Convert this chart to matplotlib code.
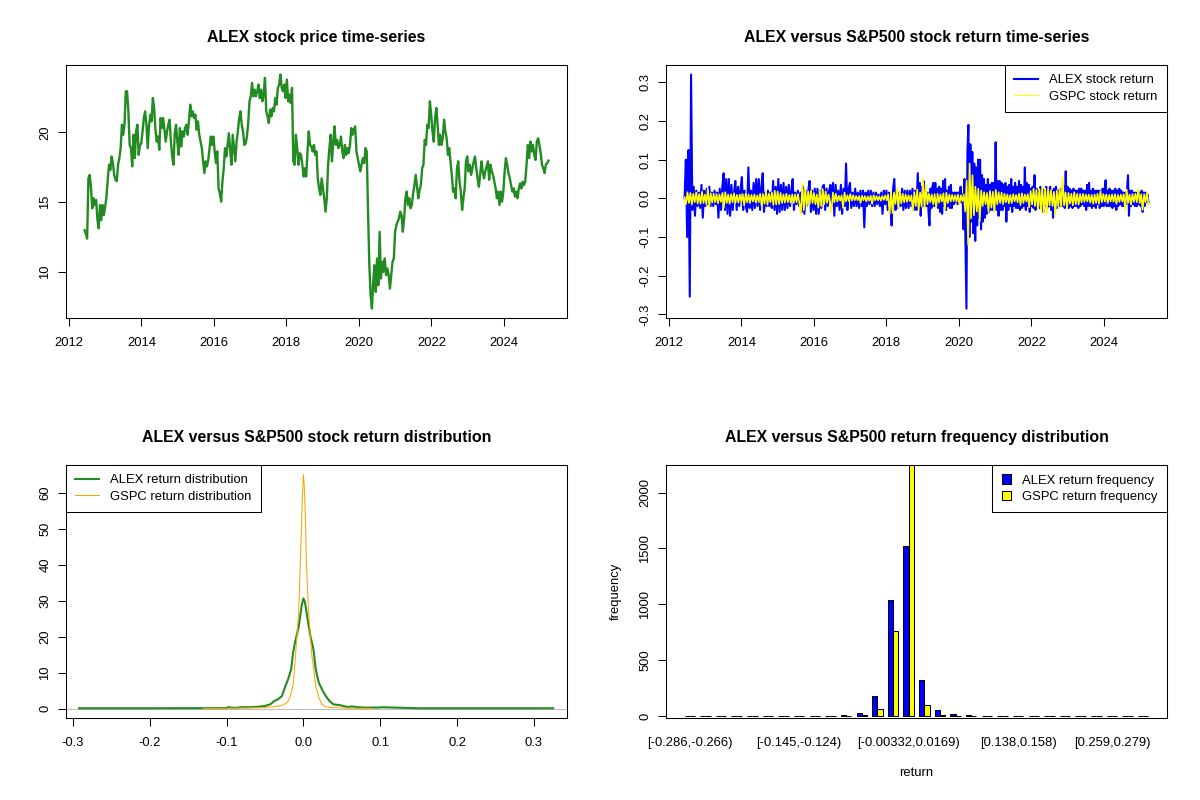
import numpy as np
import pandas as pd
import matplotlib
matplotlib.use("Agg")
import matplotlib.pyplot as plt
import matplotlib.dates as mdates
from matplotlib.patches import Patch
from matplotlib.lines import Line2D

plt.rcParams["font.family"] = ["Liberation Sans", "DejaVu Sans"]

# ---- data ----
price_start, price_end = "2012-06-07", "2025-03-25"
alex_price = [
    12.98, 12.74, 12.38, 16.7, 16.95, 15.98, 14.55, 15.27, 14.79, 15.15, 13.71, 13.11, 14.79, 13.71, 14.79,
    14.07, 14.67, 15.39, 16.6, 17.68, 17.3, 18.27, 17.8, 16.95, 16.6, 16.5, 17.68, 18.15, 18.87, 20.55,
    19.83, 20.55, 22.95, 22.95, 21.51, 19.1, 18.87, 17.56, 19.83, 18.15, 20.07, 20.55, 18.39, 19.1, 19.2,
    20.07, 21.03, 21.51, 20.55, 18.87, 20.43, 21.27, 20.79, 22.47, 21.75, 20.19, 19.34, 19.7, 18.75, 21.03,
    20.31, 21.03, 20.19, 19.34, 20.07, 20.55, 20.91, 19.34, 18.27, 17.68, 19.94, 20.55, 19.34, 18.39, 20.31,
    18.99, 20.07, 19.7, 20.31, 20.55, 19.83, 20.79, 21.99, 21.15, 21.51, 21.03, 21.27, 20.19, 20.79, 19.83,
    19.34, 18.87, 17.92, 17.08, 17.92, 17.56, 18.03, 18.87, 19.7, 19.1, 19.7, 18.63, 17.8, 18.63, 15.98,
    15.63, 15.03, 16.46, 17.42, 18.87, 18.27, 19.1, 19.94, 18.75, 17.68, 19.83, 18.87, 17.92, 19.34, 20.07,
    21.03, 21.51, 20.55, 20.07, 19.1,
    19.2, 19.7, 20.67, 22.23, 22.59, 23.55, 22.59, 23.07, 22.59, 22.95, 23.43, 22.47, 23.07, 22.23, 22.71,
    23.91, 21.51, 21.15, 20.67, 21.63, 21.15, 21.75, 21.51, 22.47, 21.99, 23.19, 23.43, 24.15, 23.19, 22.95,
    23.43, 22.47, 23.79, 22.23, 22.71, 22.11, 23.19, 17.92, 17.68, 19.83, 18.87, 17.68, 18.51, 18.39, 17.68,
    16.83, 17.42, 16.83, 18.63, 20.07, 19.1, 18.99, 18.63, 19.1, 18.39, 18.63, 16.7, 15.98, 15.51, 16.7,
    15.98, 15.27, 14.31, 15.27, 17.68, 18.87, 19.83, 17.92, 19.34, 20.43, 19.1, 19.46, 18.87, 19.1, 19.7,
    18.63, 18.15, 19.1, 18.39, 18.87, 18.51, 19.1, 20.31, 19.83, 20.19, 20.43, 18.63, 18.15, 17.68, 17.2,
    17.68, 18.15, 17.8, 18.87, 18.63, 14.31, 10.47, 8.31, 7.35, 9.27, 10.47, 8.55, 10.95, 9.03, 12.87,
    9.51, 10.71, 9.99, 10.95, 9.75, 10.23, 9.75, 8.79, 9.75, 10.71, 10.95, 12.87, 13.35, 13.59, 13.83,
    14.31, 14.07, 12.87, 13.83, 15.27, 15.75, 14.79, 15.27,
    14.55, 14.79, 15.63, 16.22, 16.95, 16.1, 15.27, 15.87, 16.22, 17.42, 17.68, 19.46, 19.1, 20.55, 20.31,
    22.23, 21.27, 20.07, 19.34, 21.03, 21.75, 20.55, 19.1, 19.83, 19.1, 19.58, 20.91, 20.07, 19.58, 18.39,
    18.87, 17.92, 16.95, 15.75, 15.98, 15.27, 17.42, 17.92, 16.46, 15.75, 14.43, 15.27, 15.98, 17.92, 18.27,
    17.2, 17.68, 16.95, 17.42, 17.92, 18.27, 17.42, 16.7, 16.1, 16.95, 17.92, 17.2, 16.7, 17.2, 17.56,
    17.92, 16.6, 17.68, 17.2, 16.95, 16.46, 15.98, 15.27, 15.75, 14.79, 15.75, 15.03, 15.75, 17.2, 18.15,
    17.68, 17.08, 16.7, 16.22, 15.75, 15.98, 15.39, 15.75, 15.27, 15.98, 16.34, 15.98, 16.46, 16.22, 16.46,
    17.68, 19.1, 18.15, 19.34, 18.63, 19.1, 18.39, 18.03, 19.34, 19.58, 19.1, 18.51, 17.68, 17.42, 17.08,
    17.68, 17.8, 17.97,
]

# ALEX daily returns (percent), two stretches read separately
ret_a_start, ret_a_end = "2012-06-07", "2018-10-30"
alex_ret_a = [
    0.0, 10, -10, 12.5, -25.4, 32, -3, 3, -4.5, 2, -2, 1.5, -2.5, 3.5, -5, 2, -2, 2.5, -1.5, 3, -2, 1.5,
    -2, 2, -1.5, 1.5, -5, 2.5, -3, 3, 6.5, -3, 5, -4, 5, -4.5, 3.5, -3, 1.5, 4.5, -3, 3, -2, 2.5, 5.5, -3,
    2, -2, -3.5, 8, -2.5, 2, -3, 4, -2.5, 5, -2, 5, -3, 3, 6.5, -3.5, 1.5, -2, 2, -2, 1.5, -2.5, 4.5, -3,
    3, -4, 5, -3.5, 3.5, -3, 4, -3, 3, -2.5, 3.5, -2, 2, 5, -3, 1.5, -1.5, 2, -2, 1.5, -3.5, 3, -4, 2, -2,
    2, 4.5, -3.5, 2, -3, 2.5, -4, 2.5, -4, 2, -2.5, 3, 3.5, -3, 2.5, -2, 2, 3.5, -2, 4, -4.5, 3.5, -2, 2,
    -3, 3.5, -4, 2.5, -2, 9, -3, 2.5, 4, -2.5, 1.5, -2, 2.5, -2, 1.5, -2.5, 2, -2, 2, -7.5, 1.5, -2, 2,
    -1.5, 2, -2, 1.5, -2, 1.5, -1.5, 1, -2, 1.5, -4, 2, -1.5, 2, -3, 1.5, -2, -7, 2, 5, -3, 1.5, -2.5,
    1.5, -2, 2.5, -3, 2, -2.5, 2, -2.5, 2, -2, 2.5, -3, 2, -3,
]
ret_b_start, ret_b_end = "2018-11-13", "2025-03-25"
alex_ret_b = [
    6.5, -3, 4, -4.5, 3, -2, 4.5, -2, 2, -2, 1.5, -3.5, -7, 2.5, -2.5, 3, 4, -2, 4, -2, 2.5, -2.5, 3,
    -3.5, 2.5, -4, 4.5, -2, 5, -3, 2, -2, 3, -2.5, 3.5, -2.5, 1.5, -1.5, 1.5, -1, 1.5, -1.5, 1.5, -1, 3,
    -1, 1, -8, 5, -12.5, -28.5, 12, 19, -10, 14, -6, 12, -9, 9, -11, 8, -7, 10, -5, 10, -8, 6, -6, 5, -5,
    3.5, -4, 5, -3.5, 3.5, -3, 4, -3, 4, -2, 14.5, -3, 4.5, -4.5, 4.5, -3, 4, -3, 3.5, -2, 4, -6, 3, -3,
    3.5, -2, 5, -3.5, 3, -2, 4, -2.5, 3, -2.5, 4.5, -3, 3.5, -2.5, 3, -2, 8, -3, 4, -2, 3.5, -3.5, 2.5,
    -2, 3, -2.5, 6, -3, 2.5, -2, 2, -2.5, 3, -2, 2.5, -3.5, 2, -2, 3, -2.5, 2.5, -2, 3, -3, 2, -5, 2.5,
    -2, 3, -2.5, 2, -2, 2.5, -2, 2.5, -2, 3, -2.5, 7, -2, 3, -2.5, 2.5, -2, 2, -2.5, 2.5, -2, 2, -2, 2,
    -2.5, 2.5, -2, 2.5, -1.5, 2, -2, 2, -3, 3.5, -2, 4, -2, 2, -2.5, 2.5, -2, 2, -2.5, 2, -1.5, 2, -2.5,
    2, -2, 2.5, -2, 2, 4.7, -2, 2, -2, 2.5, -2, 2, -2.5, 2, -2, 2.5, -3, 2, -2, 2.5, -1.5, 2, -2, 1.5,
    -2, 1.5, -1.5, 2, 6, -4.5, 2, -2, 2, -1.5, 1.5, -2, 1.5, -2, 1.5, -1.5, 1.5, -2, 2, -3.5, 1.5, -2,
    1.5, -1, 1, -1,
]

# S&P 500 (GSPC) daily returns (percent)
gspc_ret = [
    0.3, -1.5, 1.6, -1.2, 1.4, -1.6, 1.2, -1.0, 1.5, -1.3, 1.1, -1.4, 1.7, -1.2, 1.0, -1.5, 2.5, -2.2, 1.3, -1.1,
    1.2, -1.0, 1.1, -1.3, 1.0, -0.9, 1.4, -2.5, 1.6, -1.2, 1.0, -1.4, 1.1, -1.0, 1.3, -1.2, 0.9, -1.1, 1.0, -0.8,
    1.1, -1.8, 1.2, -1.0, 1.0, -1.2, 0.9, -0.8, 1.0, -1.1, 0.8, -1.0, 1.2, -2.0, 1.1, -1.4, 1.9, -1.6, 1.2, -1.0,
    1.5, -1.7, 2.0, -1.6, 1.8, -1.5, 1.4, -1.2, 1.0, -1.1, 1.2, -1.0, 0.9, -1.1, 1.0, -1.2, 1.0, -1.0, 1.1, -1.3,
    -4.0, 3.9, -3.0, 2.5, -2.2, 1.8, -1.5, 2.0, -1.2, 1.4, -1.5, 1.0, -2.4, 2.0, -2.0, 2.4, -1.5, 1.8, -1.2, 1.0,
    -1.0, -3.6, 1.5, -1.0, 1.2, -0.8, 0.7, -0.6, 0.8, -2.5, 1.5, -0.8, 0.8, -0.7, 1.1, -0.6, 0.8, -0.5, 0.6, -0.5,
    0.6, -1.2, 0.7, -0.5, 0.6, -0.8, 0.5, -0.6, 0.7, -1.4, 0.8, -0.5, 0.6, -0.5, 0.5, -0.6, 0.6, -0.4, 0.8, -0.5,
    1.0, -4.1, 1.7, -3.8, 1.5, -1.4, 2.7, -2.5, 1.8, -1.3, 1.2, -1.0, 1.0, -0.9, 0.8, -0.7, 0.8, -3.2, 1.6, -2.0,
    2.3, -3.2, 1.5, -2.1, 5.0, -2.7, 3.4, -1.5, 1.2, -1.0, 1.0, -1.5, 1.1, -2.4, 1.2, -1.1, 1.0, -0.8, 1.3, -3.0,
    1.5, -1.2, 1.0, -0.8, 0.9, -0.7, 0.8, -0.9, 1.0, -1.6, 0.8, -0.7, 1.0, -3.4, 4.6, -12.0, 9.0, -5.2, 6.0, -4.4,
    3.0, -3.4, 2.5, -5.9, 2.0, -2.0, 1.6, -1.5, 1.4, -3.5, 1.9, -2.4, 1.7, -3.5, 2.2, -1.5, 1.6, -1.2, 1.5, -1.5,
    1.2, -1.0, 1.0, -1.3, 0.9, -1.2, 1.1, -0.8, 0.9, -1.0, 1.2, -1.7, 1.3, -1.2, 1.0, -0.8, 1.1, -2.3, 1.9, -1.6,
    2.5, -2.0, 2.2, -2.9, 2.4, -3.0, 3.0, -4.0, 2.5, -3.9, 2.6, -1.8, 2.1, -2.0, 1.7, -4.3, 2.0, -2.1, 2.6, -2.4,
    5.5, -1.8, 1.5, -2.5, 1.4, -1.3, 1.2, -1.8, 1.6, -1.5, 1.2, -1.6, 1.1, -1.0, 1.2, -0.9, 1.0, -0.8, 1.0, -1.1,
    0.9, -1.4, 1.0, -1.2, 1.2, -1.4, 1.9, -1.0, 1.1, -0.8, 1.0, -1.2, 0.9, -0.8, 1.0, -0.9, 1.1, -1.4, 0.9, -0.9,
    1.0, -0.8, 1.1, -3.0, 2.3, -1.2, 1.0, -1.6, 1.1, -0.9, 1.2, -1.0, 2.5, -1.2, 1.1, -3.0, 1.1, -1.0, 1.5, -1.7,
]

# kernel density curves
alex_dens_x = [-0.292, -0.2, -0.1, -0.098, -0.09, -0.08, -0.07, -0.06, -0.051, -0.043, -0.038, -0.033,
               -0.028, -0.0234, -0.02, -0.016, -0.0134, -0.011, -0.006, -0.002, 0.0, 0.002, 0.004, 0.009,
               0.013, 0.016, 0.02, 0.024, 0.029, 0.034, 0.039, 0.049, 0.056, 0.064, 0.07, 0.08, 0.1, 0.102,
               0.15, 0.25, 0.325]
alex_dens_y = [0.1, 0.1, 0.15, 0.4, 0.2, 0.4, 0.4, 0.5, 0.7, 1.2, 2.1, 2.6, 3.5, 6.3, 8.1, 10.9, 15.6,
               18.3, 23.0, 29.0, 30.6, 29.5, 26.7, 20.2, 16.5, 10.9, 7.2, 5.4, 3.5, 2.1, 1.2, 0.9, 0.5, 0.6,
               0.4, 0.3, 0.3, 0.4, 0.1, 0.1, 0.1]
gspc_dens_x = [-0.13, -0.1, -0.07, -0.05, -0.04, -0.028, -0.021, -0.017, -0.013, -0.011, -0.0085, -0.006,
               -0.0035, -0.0015, 0.0, 0.001, 0.0025, 0.004, 0.0065, 0.009, 0.011, 0.014, 0.016, 0.02, 0.024,
               0.029, 0.039, 0.06, 0.09]
gspc_dens_y = [0.05, 0.1, 0.2, 0.3, 0.5, 0.9, 1.7, 3.5, 7.2, 12.8, 20.2, 27.6, 44.0, 58.0, 65.0, 62.0,
               53.5, 39.6, 27.6, 20.2, 14.6, 10.0, 6.3, 3.1, 1.2, 0.5, 0.3, 0.1, 0.05]

# frequency table of returns over 30 equal-width bins
bin_edges = [-0.286, -0.266, -0.246, -0.225, -0.205, -0.185, -0.165, -0.145, -0.124, -0.104, -0.0841,
             -0.0639, -0.0437, -0.0235, -0.00332, 0.0169, 0.0371, 0.0572, 0.0774, 0.0976, 0.118, 0.138,
             0.158, 0.178, 0.199, 0.219, 0.239, 0.259, 0.279, 0.3, 0.32]
alex_freq = [1, 0, 0, 0, 0, 0, 0, 1, 3, 6, 15, 30, 184, 1037, 1518, 327, 59, 22, 10, 6, 4, 3, 1, 0, 0, 0, 0, 0, 0, 1]
gspc_freq = [0, 0, 0, 0, 0, 0, 0, 0, 0, 0, 3, 10, 68, 764, 2266, 104, 10, 3, 0, 0, 0, 0, 0, 0, 0, 0, 0, 0, 0, 0]
shown_bins = [0, 7, 14, 21, 27]

FS = 9.4
TITLE_FS = 11.4


def r_range(vals):
    lo, hi = float(np.min(vals)), float(np.max(vals))
    pad = 0.04 * (hi - lo)
    return lo - pad, hi + pad


def style_axes(ax):
    for s in ax.spines.values():
        s.set_linewidth(0.75)
    ax.tick_params(length=5.5, width=0.75, labelsize=FS, colors="black")
    ax.tick_params(axis="x", pad=8.5)
    ax.tick_params(axis="y", pad=5, labelrotation=90)
    for lab in ax.get_yticklabels():
        lab.set_va("center")


def r_legend(ax, handles, labels, loc, **kw):
    leg = ax.legend(handles, labels, loc=loc, borderaxespad=0, fancybox=False, edgecolor="black",
                    framealpha=1, fontsize=FS, borderpad=0.7, labelspacing=0.3, handletextpad=0.85, **kw)
    leg.get_frame().set_linewidth(0.75)
    return leg


fig = plt.figure(figsize=(12, 8), dpi=100)
W, H = 0.4175, 0.316
ax1 = fig.add_axes([0.055, 0.6025, W, H])
ax2 = fig.add_axes([0.555, 0.6025, W, H])
ax3 = fig.add_axes([0.055, 0.1025, W, H])
ax4 = fig.add_axes([0.555, 0.1025, W, H])

# ---- 1. price series ----
pdates = mdates.date2num(pd.date_range(price_start, price_end, periods=len(alex_price)))
ax1.plot(pdates, alex_price, color="forestgreen", lw=1.7)
ax1.set_xlim(r_range(pdates))
ax1.set_ylim(r_range(alex_price))
ax1.set_yticks([10, 15, 20])
ax1.xaxis.set_major_locator(mdates.YearLocator(2))
ax1.xaxis.set_major_formatter(mdates.DateFormatter("%Y"))
ax1.set_title("ALEX stock price time-series", fontsize=TITLE_FS, fontweight="bold", pad=17)
style_axes(ax1)

# ---- 2. return series ----
da = mdates.date2num(pd.date_range(ret_a_start, ret_a_end, periods=len(alex_ret_a)))
db = mdates.date2num(pd.date_range(ret_b_start, ret_b_end, periods=len(alex_ret_b)))
rdates = np.concatenate([da, db])
alex_ret = np.array(alex_ret_a + alex_ret_b) / 100
gdates = mdates.date2num(pd.date_range(price_start, price_end, periods=len(gspc_ret)))
gret = np.array(gspc_ret) / 100
ax2.plot(rdates, alex_ret, color="blue", lw=1.5)
ax2.plot(gdates, gret, color="yellow", lw=1.2)
ax2.set_xlim(r_range(rdates))
ax2.set_ylim(r_range(np.concatenate([alex_ret, gret])))
ax2.set_yticks([-0.3, -0.2, -0.1, 0.0, 0.1, 0.2, 0.3])
ax2.set_yticklabels(["-0.3", "-0.2", "-0.1", "0.0", "0.1", "0.2", "0.3"])
ax2.xaxis.set_major_locator(mdates.YearLocator(2))
ax2.xaxis.set_major_formatter(mdates.DateFormatter("%Y"))
ax2.set_title("ALEX versus S&P500 stock return time-series", fontsize=TITLE_FS, fontweight="bold", pad=17)
r_legend(ax2, [Line2D([], [], color="blue", lw=1.5), Line2D([], [], color="yellow", lw=0.75)],
         ["ALEX stock return", "GSPC stock return"], "upper right", handlelength=1.85)
style_axes(ax2)

# ---- 3. densities ----
ax3.axhline(0, color="#bebebe", lw=0.75)
ax3.plot(alex_dens_x, alex_dens_y, color="forestgreen", lw=1.5)
ax3.plot(gspc_dens_x, gspc_dens_y, color="orange", lw=0.75)
ax3.set_xlim(-0.309, 0.343)
ax3.set_ylim(r_range([0] + gspc_dens_y))
ax3.set_xticks([-0.3, -0.2, -0.1, 0.0, 0.1, 0.2, 0.3])
ax3.set_xticklabels(["-0.3", "-0.2", "-0.1", "0.0", "0.1", "0.2", "0.3"])
ax3.set_yticks([0, 10, 20, 30, 40, 50, 60])
ax3.set_title("ALEX versus S&P500 stock return distribution", fontsize=TITLE_FS, fontweight="bold", pad=17)
r_legend(ax3, [Line2D([], [], color="forestgreen", lw=1.5), Line2D([], [], color="orange", lw=0.75)],
         ["ALEX return distribution", "GSPC return distribution"], "upper left", handlelength=1.85)
style_axes(ax3)

# ---- 4. frequency bars (R barplot, beside=TRUE) ----
bin_labels = [f"[{lo:g},{hi:g})" for lo, hi in zip(bin_edges[:-1], bin_edges[1:])]
g = np.arange(len(alex_freq)) * 3
ax4.bar(g + 1.5, alex_freq, width=1, color="blue", edgecolor="black", lw=0.75)
ax4.bar(g + 2.5, gspc_freq, width=1, color="yellow", edgecolor="black", lw=0.75)
ax4.set_xlim(r_range([1, g[-1] + 3]))
ax4.set_ylim(-15, 2244)
ax4.set_yticks([0, 500, 1000, 1500, 2000])
ax4.set_xticks(g[shown_bins] + 2)
ax4.set_xticklabels([bin_labels[i] for i in shown_bins])
ax4.set_xlabel("return", fontsize=FS, labelpad=13)
ax4.set_ylabel("frequency", fontsize=FS, labelpad=13)
ax4.set_title("ALEX versus S&P500 return frequency distribution", fontsize=TITLE_FS, fontweight="bold", pad=17)
r_legend(ax4, [Patch(facecolor="blue", edgecolor="black", lw=0.75),
               Patch(facecolor="yellow", edgecolor="black", lw=0.75)],
         ["ALEX return frequency", "GSPC return frequency"], "upper right",
         handlelength=0.75, handleheight=0.75)
style_axes(ax4)
ax4.tick_params(axis="x", length=0, pad=14)

fig.savefig("out.png", dpi=100, facecolor="white")
